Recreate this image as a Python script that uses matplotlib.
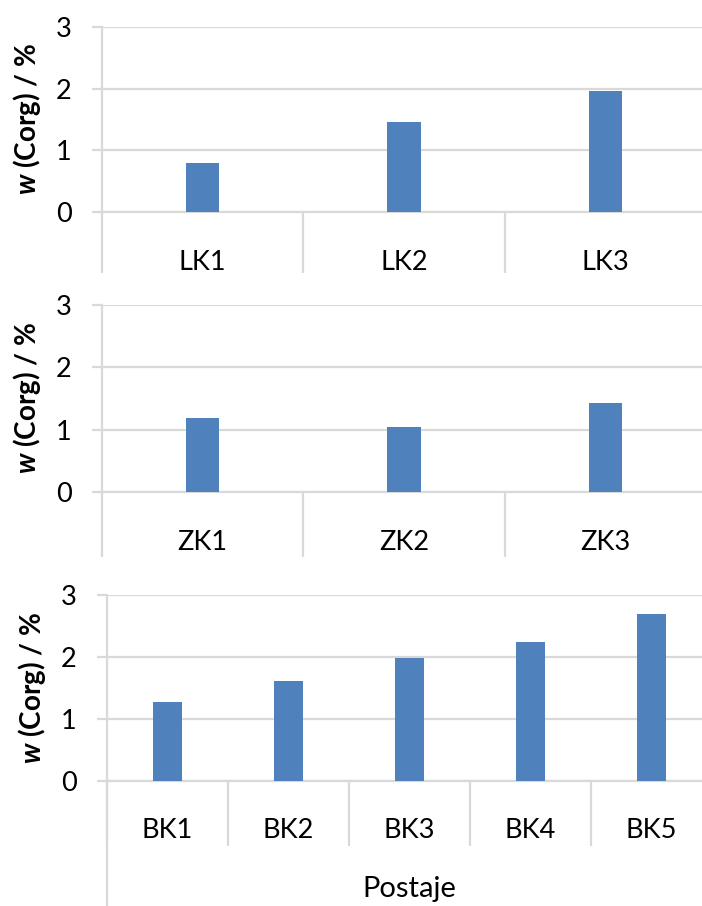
import numpy as np
import matplotlib
matplotlib.use("Agg")
import matplotlib.pyplot as plt

plt.rcParams["font.family"] = ["Lato", "DejaVu Sans"]
plt.rcParams["mathtext.fontset"] = "custom"
plt.rcParams["mathtext.rm"] = "Lato"
plt.rcParams["mathtext.bf"] = "Lato:bold"
plt.rcParams["mathtext.bfit"] = "Lato:bold:italic"

# data
lk_labels = ["LK1", "LK2", "LK3"]
lk_values = [0.79, 1.46, 1.97]

zk_labels = ["ZK1", "ZK2", "ZK3"]
zk_values = [1.19, 1.05, 1.42]

bk_labels = ["BK1", "BK2", "BK3", "BK4", "BK5"]
bk_values = [1.28, 1.61, 1.99, 2.25, 2.69]

y_ticks = [0, 1, 2, 3]
y_label = r"$\boldsymbol{w}$ (Corg) / %"
x_label = "Postaje"

BAR_COLOR = "#4f81bd"
GRID_COLOR = "#d9d9d9"
FS = 19.5

W, H = 702, 906
fig = plt.figure(figsize=(W / 100, H / 100), dpi=100)


def px_axes(left, right, top, bottom):
    return fig.add_axes([left / W, 1 - bottom / H, (right - left) / W, (bottom - top) / H])


def panel(ax, labels, values, bar_w, div_len):
    n = len(labels)
    x = np.arange(n)
    ax.bar(x, values, width=bar_w, color=BAR_COLOR, zorder=3)
    ax.set_xlim(-0.5, n - 0.5)
    ax.set_ylim(0, 3)
    ax.set_yticks(y_ticks)
    ax.yaxis.grid(True, color=GRID_COLOR, linewidth=1.6, zorder=0)
    ax.set_axisbelow(True)
    ax.tick_params(axis="y", length=7, width=1.6, color=GRID_COLOR,
                   labelsize=FS, pad=15)
    ax.set_xticks(x)
    ax.set_xticklabels(labels)
    ax.set_xticks(np.arange(-0.5, n), minor=True)
    ax.tick_params(axis="x", which="major", length=0, labelsize=FS, pad=27)
    ax.tick_params(axis="x", which="minor", length=div_len, width=1.6,
                   color=GRID_COLOR, direction="out")
    for s in ["top", "right"]:
        ax.spines[s].set_visible(False)
    for s in ["left", "bottom"]:
        ax.spines[s].set_color(GRID_COLOR)
        ax.spines[s].set_linewidth(1.6)
    ax.set_ylabel(y_label, fontsize=20, fontweight="bold", labelpad=9)


ax1 = px_axes(102, 706, 27, 212)
panel(ax1, lk_labels, lk_values, 0.165, 44)

ax2 = px_axes(102, 706, 305, 492)
panel(ax2, zk_labels, zk_values, 0.165, 47)

ax3 = px_axes(107, 712, 595, 781)
panel(ax3, bk_labels, bk_values, 0.24, 47)
ax3.plot([-0.5, -0.5], [0, -2.1], color=GRID_COLOR, linewidth=1.6, clip_on=False)
ax3.set_xlabel(x_label, fontsize=21, labelpad=18)

fig.savefig("out.png", dpi=100)
